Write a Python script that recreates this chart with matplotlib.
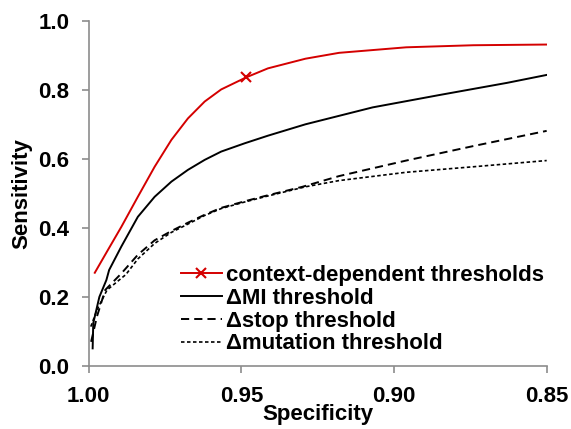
import matplotlib
matplotlib.use("Agg")
import matplotlib.pyplot as plt
from matplotlib.ticker import FormatStrFormatter

plt.rcParams['font.family'] = ['Liberation Sans', 'DejaVu Sans']
plt.rcParams['font.weight'] = 'bold'

# ROC-style curves: sensitivity against specificity
ctx_spec = [0.998, 0.9937, 0.9893, 0.9839, 0.9784, 0.9729, 0.9675, 0.9620, 0.9566, 0.9484,
            0.9413, 0.929, 0.918, 0.896, 0.874, 0.850]
ctx_sens = [0.270, 0.336, 0.403, 0.490, 0.577, 0.655, 0.717, 0.766, 0.801, 0.836,
            0.862, 0.890, 0.907, 0.923, 0.929, 0.931]
ctx_marker_idx = 9

mi_spec = [0.9987, 0.9985, 0.9965, 0.9942, 0.9933, 0.9893, 0.9839, 0.9784, 0.9729, 0.9675,
           0.9620, 0.9566, 0.9489, 0.9413, 0.929, 0.907, 0.885, 0.863, 0.850]
mi_sens = [0.051, 0.124, 0.200, 0.249, 0.278, 0.346, 0.432, 0.490, 0.534, 0.568,
           0.597, 0.621, 0.645, 0.667, 0.700, 0.749, 0.785, 0.820, 0.843]

stop_spec = [0.9992, 0.9973, 0.9946, 0.9893, 0.9839, 0.9784, 0.9729, 0.9675, 0.9620, 0.9566,
             0.9489, 0.9424, 0.930, 0.918, 0.896, 0.874, 0.850]
stop_sens = [0.070, 0.143, 0.220, 0.268, 0.322, 0.364, 0.391, 0.415, 0.438, 0.458,
             0.477, 0.492, 0.519, 0.550, 0.595, 0.637, 0.681]

mut_spec = [0.9993, 0.9973, 0.9940, 0.9878, 0.9839, 0.9784, 0.9729, 0.9675, 0.9620, 0.9566,
            0.9489, 0.9424, 0.929, 0.918, 0.896, 0.874, 0.850]
mut_sens = [0.114, 0.162, 0.220, 0.265, 0.310, 0.355, 0.387, 0.411, 0.436, 0.456,
            0.475, 0.490, 0.519, 0.537, 0.561, 0.577, 0.595]

labels = ['context-dependent thresholds', '\u0394MI threshold',
          '\u0394stop threshold', '\u0394mutation threshold']

x_ticks = [1.00, 0.95, 0.90, 0.85]
y_ticks = [0.0, 0.2, 0.4, 0.6, 0.8, 1.0]

fig = plt.figure(figsize=(5.71, 4.29), dpi=100)
ax = fig.add_axes([0.1553, 0.1469, 0.8021, 0.8048])

lw = 1.4
ax.plot(ctx_spec, ctx_sens, color='#d40000', lw=lw, marker='x', markersize=7,
        markeredgewidth=1.5, markevery=[ctx_marker_idx], label=labels[0], zorder=5)
ax.plot(mi_spec, mi_sens, color='black', lw=lw, label=labels[1])
ax.plot(stop_spec, stop_sens, color='black', lw=lw, dashes=(4.2, 2.6), label=labels[2])
ax.plot(mut_spec, mut_sens, color='black', lw=1.2, dashes=(2.1, 1.5), label=labels[3])

ax.set_xlim(1.00, 0.85)
ax.set_ylim(0.0, 1.0)
ax.set_xticks(x_ticks)
ax.set_yticks(y_ticks)
ax.xaxis.set_major_formatter(FormatStrFormatter('%.2f'))
ax.yaxis.set_major_formatter(FormatStrFormatter('%.1f'))

for side in ('top', 'right'):
    ax.spines[side].set_visible(False)
for side in ('left', 'bottom'):
    ax.spines[side].set_color('#8c8c8c')
    ax.spines[side].set_linewidth(1.2)
ax.tick_params(axis='both', direction='out', length=5, width=1.2, color='#8c8c8c',
               labelsize=16, labelcolor='black')
ax.tick_params(axis='x', pad=9.5)
ax.tick_params(axis='y', pad=9)
for t in ax.get_xticklabels() + ax.get_yticklabels():
    t.set_fontweight('bold')

ax.set_xlabel('Specificity', fontsize=16, fontweight='bold')
ax.set_ylabel('Sensitivity', fontsize=16, fontweight='bold')
ax.xaxis.set_label_coords(0.5, -0.110)
ax.yaxis.set_label_coords(-0.122, 0.5)

leg = ax.legend(loc='upper left', bbox_to_anchor=(180.7 / 571, 1 - 265 / 429),
                bbox_transform=fig.transFigure, frameon=False,
                handlelength=1.85, handletextpad=0.18, labelspacing=0.08,
                borderpad=0, borderaxespad=0,
                prop={'weight': 'bold', 'size': 16})

fig.savefig('out.png', dpi=100)
